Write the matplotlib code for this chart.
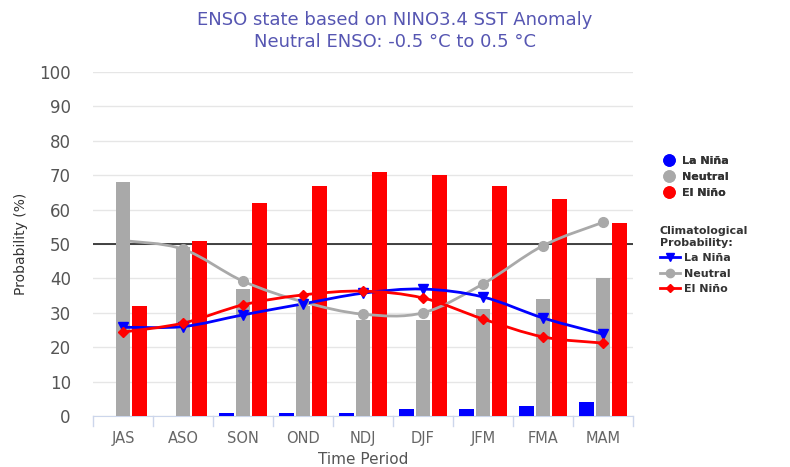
import numpy as np
import matplotlib
matplotlib.use('Agg')
import matplotlib.pyplot as plt
from matplotlib.path import Path
from matplotlib.patches import PathPatch
from matplotlib.lines import Line2D

#DATA
periods = ['JAS', 'ASO', 'SON', 'OND', 'NDJ', 'DJF', 'JFM', 'FMA', 'MAM']
lanina = [0, 0, 1, 1, 1, 2, 2, 3, 4]
neutral = [68, 49, 37, 32, 28, 28, 31, 34, 40]
elnino = [32, 51, 62, 67, 71, 70, 67, 63, 56]
clim_lanina = [25.8, 26, 29.4, 32.6, 35.7, 36.9, 34.6, 28.5, 23.8]
clim_neutral = [51, 48.5, 39.2, 33.2, 29.6, 30, 38.4, 49.5, 56.3]
clim_elnino = [24.4, 27, 32.3, 35.2, 36.3, 34.3, 28.2, 23, 21.2]


def spline_path(xs, ys):
    # catmull-rom style curve drawn as cubic bezier segments
    pts = np.column_stack([xs, ys]).astype(float)
    n = len(pts)
    verts = [pts[0]]
    codes = [Path.MOVETO]
    for i in range(n - 1):
        p0 = pts[max(i - 1, 0)]
        p1 = pts[i]
        p2 = pts[i + 1]
        p3 = pts[min(i + 2, n - 1)]
        c1 = p1 + (p2 - p0) / 6.0
        c2 = p2 - (p3 - p1) / 6.0
        verts += [c1, c2, p2]
        codes += [Path.CURVE4] * 3
    return Path(verts, codes)


fig = plt.figure(figsize=(7.9, 4.67), dpi=100)
ax = fig.add_axes([93/790, 1-416/467, 540/790, 344/467])

x = np.arange(len(periods))
w = 0.24
gap = 0.035
ax.bar(x - w - gap, lanina, w, color='#0000ff', zorder=3)
ax.bar(x, neutral, w, color='#a9a9a9', zorder=3)
ax.bar(x + w + gap, elnino, w, color='#ff0000', zorder=3)

ax.axhline(50, color='#222222', lw=1.2, zorder=2)

for vals, col, mk, ms in [(clim_neutral, '#a9a9a9', 'o', 7),
                          (clim_lanina, '#0000ff', 'v', 7),
                          (clim_elnino, '#ff0000', 'D', 5.5)]:
    ax.add_patch(PathPatch(spline_path(x, vals), fill=False, edgecolor=col, lw=2, zorder=4))
    ax.plot(x, vals, ls='none', marker=mk, ms=ms, color=col, zorder=5)

ax.set_xlim(-0.5, len(periods) - 0.5)
ax.set_ylim(0, 100)
ax.set_yticks(range(0, 101, 10))
ax.set_xticks(x)
ax.set_xticklabels(periods)
ax.grid(axis='y', color='#e6e6e6', lw=1, zorder=0)
for s in ['top', 'right', 'left']:
    ax.spines[s].set_visible(False)
ax.spines['bottom'].set_color('#ccd6eb')
ax.tick_params(axis='y', length=0, labelsize=12, labelcolor='#555555', pad=16)
ax.tick_params(axis='x', length=0, labelsize=10.5, labelcolor='#666666', pad=11)
# category boundary ticks
for b in np.arange(-0.5, len(periods), 1):
    ax.plot([b, b], [0, -2.8], color='#ccd6eb', lw=1, clip_on=False)

ax.set_xlabel('Time Period', fontsize=11, color='#555555', labelpad=4)
ax.set_ylabel('Probability (%)', fontsize=10, color='#333333', labelpad=8)

fig.text(0.5, 1-20/467, 'ENSO state based on NINO3.4 SST Anomaly', ha='center', va='center',
         fontsize=13, color='#5656b2')
fig.text(0.5, 1-42/467, 'Neutral ENSO: -0.5 \u00b0C to 0.5 \u00b0C', ha='center', va='center',
         fontsize=13, color='#5656b2')

#LEGENDS
h1 = [Line2D([], [], ls='none', marker='o', ms=8, color=c) for c in ['#0000ff', '#a9a9a9', '#ff0000']]
leg1 = fig.legend(h1, ['La Niña', 'Neutral', 'El Niño'], loc='upper left',
                  bbox_to_anchor=(652/790, 1-146/467), frameon=False,
                  prop={'size': 8, 'weight': 'bold'}, labelcolor='#333333',
                  handlelength=1.2, handletextpad=0.6, labelspacing=0.55)
h2 = [Line2D([], [], color='#0000ff', lw=2, marker='v', ms=6),
      Line2D([], [], color='#a9a9a9', lw=2, marker='o', ms=6),
      Line2D([], [], color='#ff0000', lw=2, marker='D', ms=4.5)]
leg2 = fig.legend(h2, ['La Niña', 'Neutral', 'El Niño'], loc='upper left',
                  bbox_to_anchor=(650/790, 1-216/467), frameon=False,
                  title='Climatological\nProbability:',
                  prop={'size': 8, 'weight': 'bold'}, labelcolor='#333333',
                  title_fontproperties={'size': 8, 'weight': 'bold'},
                  handlelength=1.8, handletextpad=0.4, labelspacing=0.5)
leg2._legend_box.align = 'left'
leg2.get_title().set_color('#333333')
fig.add_artist(leg1)

plt.savefig('out.png', dpi=100)
